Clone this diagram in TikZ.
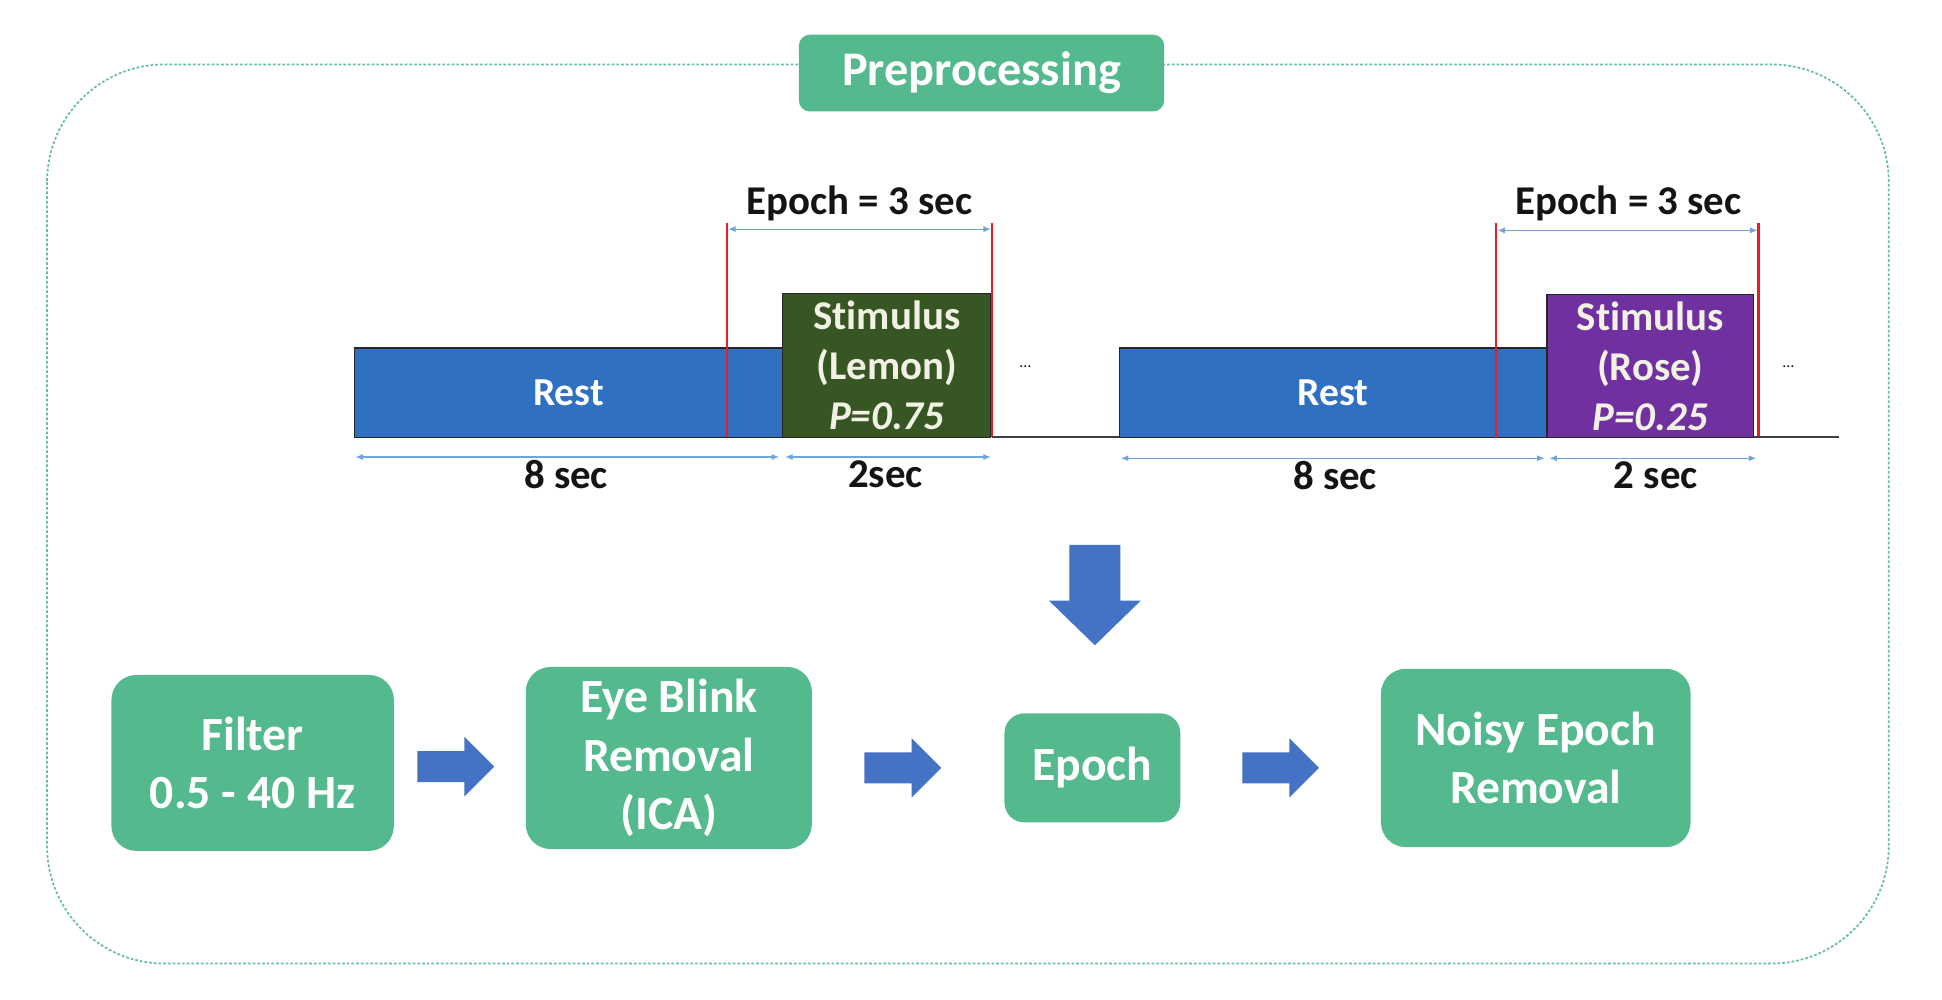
\documentclass[tikz,border=0pt]{standalone}
\usepackage{fontspec}
\setmainfont{Carlito}[Ligatures={NoCommon}]
\usetikzlibrary{arrows.meta}
\definecolor{boxgreen}{RGB}{84,185,140}
\definecolor{restblue}{RGB}{47,112,193}
\definecolor{lemongreen}{RGB}{56,86,35}
\definecolor{rosepurple}{RGB}{112,48,160}
\definecolor{arrowblue}{RGB}{68,114,196}
\definecolor{redline}{RGB}{235,28,36}
\definecolor{dimblue}{RGB}{110,165,220}
\definecolor{dashgreen}{RGB}{105,190,158}
\definecolor{labelblack}{RGB}{20,20,20}
\definecolor{stimtext}{RGB}{242,242,228}
\tikzset{
  greenbox/.style={fill=boxgreen, draw=none, text=white, rounded corners=20pt,
    align=center, inner sep=0pt, font=\fontsize{38.5}{47}\selectfont\bfseries},
  timebox/.style={draw=black!85, line width=1pt, align=center, inner sep=0pt},
  resttext/.style={text=white, font=\fontsize{32}{40}\selectfont\bfseries},
  stimfont/.style={text=stimtext, font=\fontsize{33}{40.5}\selectfont\bfseries},
  lbl/.style={text=labelblack, inner sep=0pt, font=\fontsize{33}{40}\selectfont\bfseries},
  redmark/.style={draw=redline, line width=2pt},
  dimarrow/.style={draw=dimblue, line width=1pt, {Latex[length=6pt,width=5pt]}-{Latex[length=6pt,width=5pt]}},
  baseline/.style={draw=black!75, line width=1.6pt},
  outerframe/.style={draw=dashgreen, line width=1.4pt, dash pattern=on 2.2pt off 1.6pt, rounded corners=95pt},
  rblock/.pic={\fill[arrowblue] (-31,-12.5) -- (7,-12.5) -- (7,-24) -- (31,0) -- (7,24) -- (7,12.5) -- (-31,12.5) -- cycle;}
}
\begin{document}
\begin{tikzpicture}[x=1pt,y=-1pt]
\useasboundingbox (0,0) rectangle (1568,807.4);
\fill[white] (0,0) rectangle (1568,807.4);

% outer dashed frame
\draw[outerframe] (38,52) rectangle (1525,778);

% title
\node[greenbox, rounded corners=9pt, minimum width=295pt, minimum height=62pt,
  font=\fontsize{39}{44}\selectfont\bfseries] (title) at (792.5,59) {Preprocessing};

% ---------- timeline 1 ----------
\node[timebox, fill=restblue, minimum width=346pt, minimum height=72pt, resttext] (rest1) at (459,317) {Rest};
\node[timebox, fill=lemongreen, minimum width=168pt, minimum height=116pt, stimfont] (stim1) at (716,295)
  {Stimulus\\(Lemon)\\\textit{P=0.75}};
\coordinate (r1at) at (587,180); \coordinate (r1ab) at (587,353);
\coordinate (r1bt) at (801,180); \coordinate (r1bb) at (801,353);
\draw[redmark] (r1at) -- (r1ab);
\draw[redmark] (r1bt) -- (r1bb);
\coordinate (e1l) at (588,185); \coordinate (e1r) at (800,185);
\draw[dimarrow] (e1l) -- (e1r);
\node[lbl] (ep1) at (694,164) {Epoch = 3 sec};
\coordinate (b1l) at (801,353); \coordinate (b1r) at (905,353);
\draw[baseline] (b1l) -- (b1r);
\node[text=labelblack, font=\fontsize{13}{13}\selectfont] (dots1) at (828,296) {\ldots};
\coordinate (d1a) at (287,369); \coordinate (d1b) at (629,369);
\coordinate (d1c) at (634,369); \coordinate (d1d) at (800,369);
\draw[dimarrow] (d1a) -- (d1b);
\draw[dimarrow] (d1c) -- (d1d);
\node[lbl] (s8a) at (457,383) {8 sec};
\node[lbl] (s2a) at (715,383) {2sec};

% ---------- timeline 2 ----------
\node[timebox, fill=restblue, minimum width=345pt, minimum height=72pt, resttext] (rest2) at (1076.5,317) {Rest};
\node[timebox, fill=rosepurple, minimum width=167pt, minimum height=115pt, stimfont] (stim2) at (1332.5,295.5)
  {Stimulus\\(Rose)\\\textit{P=0.25}};
\coordinate (r2at) at (1208,180); \coordinate (r2ab) at (1208,354);
\coordinate (r2bt) at (1420,180); \coordinate (r2bb) at (1420,354);
\draw[redmark] (r2at) -- (r2ab);
\draw[redmark] (r2bt) -- (r2bb);
\coordinate (e2l) at (1209,186); \coordinate (e2r) at (1419,186);
\draw[dimarrow] (e2l) -- (e2r);
\node[lbl] (ep2) at (1315,164) {Epoch = 3 sec};
\coordinate (b2l) at (1416,353); \coordinate (b2r) at (1485,353);
\draw[baseline] (b2l) -- (b2r);
\node[text=labelblack, font=\fontsize{13}{13}\selectfont] (dots2) at (1444,296) {\ldots};
\coordinate (d2a) at (905,370); \coordinate (d2b) at (1247,370);
\coordinate (d2c) at (1251,370); \coordinate (d2d) at (1418,370);
\draw[dimarrow] (d2a) -- (d2b);
\draw[dimarrow] (d2c) -- (d2d);
\node[lbl] (s8b) at (1078,384) {8 sec};
\node[lbl] (s2b) at (1337,384) {2 sec};

% ---------- down arrow ----------
\fill[arrowblue] (863.5,440) -- (904.5,440) -- (904.5,485) -- (921,485) -- (884,521)
  -- (847,485) -- (863.5,485) -- cycle;

% ---------- processing chain ----------
\node[greenbox, minimum width=228pt, minimum height=142pt] (filter) at (204,616) {Filter\\0.5 - 40 Hz};
\node[greenbox, minimum width=231pt, minimum height=147pt] (ica) at (540,612) {Eye Blink\\Removal\\(ICA)};
\node[greenbox, rounded corners=16pt, minimum width=142pt, minimum height=88pt] (epoch) at (882,620) {Epoch};
\node[greenbox, minimum width=250pt, minimum height=144pt] (noisy) at (1240,612) {Noisy Epoch\\Removal};

\pic at (368,619) {rblock};
\pic at (729,620) {rblock};
\pic at (1034,620) {rblock};
\end{tikzpicture}
\end{document}
